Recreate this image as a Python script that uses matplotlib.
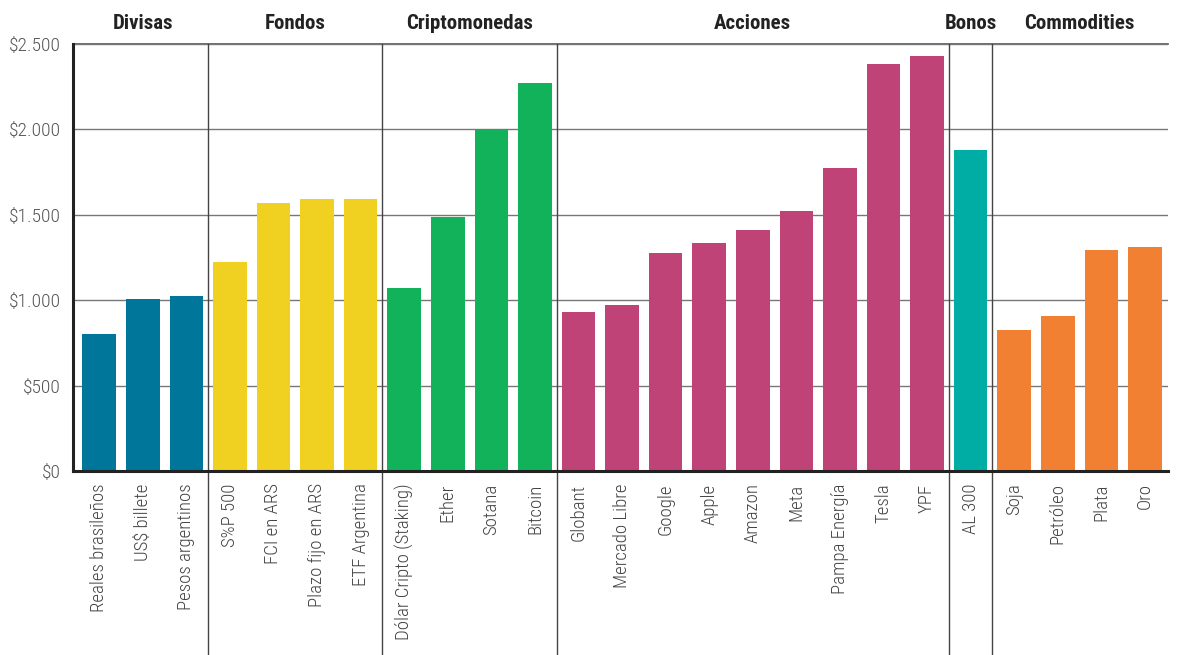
import matplotlib.pyplot as plt
from matplotlib import font_manager

names = {f.name for f in font_manager.fontManager.ttflist}


def pick(candidates):
    for c in candidates:
        if c in names:
            return c
    return 'DejaVu Sans'


body_font = pick(['Roboto Condensed', 'IBM Plex Sans Condensed', 'Open Sans Condensed', 'Liberation Sans Narrow'])
title_font = pick(['Roboto Condensed', 'IBM Plex Sans Condensed', 'Oswald'])
plt.rcParams['font.family'] = [body_font, 'DejaVu Sans']

groups = ['Divisas', 'Fondos', 'Criptomonedas', 'Acciones', 'Bonos', 'Commodities']
group_sizes = [3, 4, 4, 9, 1, 4]
group_colors = ['#00769a', '#f0d020', '#12b25a', '#c04377', '#00ada5', '#f28032']

labels = ['Reales brasileños', 'US$ billete', 'Pesos argentinos',
          'S%P 500', 'FCI en ARS', 'Plazo fijo en ARS', 'ETF Argentina',
          'Dólar Cripto (Staking)', 'Ether', 'Sotana', 'Bitcoin',
          'Globant', 'Mercado Libre', 'Google', 'Apple', 'Amazon', 'Meta',
          'Pampa Energía', 'Tesla', 'YPF',
          'AL 300',
          'Soja', 'Petróleo', 'Plata', 'Oro']
values = [802, 1007, 1025,
          1224, 1569, 1592, 1592,
          1071, 1487, 1996, 2272,
          931, 972, 1276, 1335, 1411, 1522, 1774, 2383, 2430,
          1879,
          826, 907, 1294, 1311]
yticks = [0, 500, 1000, 1500, 2000, 2500]
ytick_labels = ['$0', '$500', '$1.000', '$1.500', '$2.000', '$2.500']

colors = []
for c, n in zip(group_colors, group_sizes):
    colors += [c] * n

fig = plt.figure(figsize=(11.82, 6.55), dpi=100)
ax = fig.add_axes([0.0618, 0.281, 0.926, 0.652])

x = list(range(len(values)))
ax.bar(x, values, width=0.77, color=colors, zorder=3)

ax.set_ylim(0, 2500)
ax.set_xlim(-0.6, len(values) - 0.48)
ax.set_yticks(yticks)
ax.set_yticklabels(ytick_labels, fontsize=14, color='#555555', fontweight='light')
ax.set_xticks(x)
ax.set_xticklabels(labels, rotation=90, fontsize=13.5, color='#444444', fontweight='light')
ax.tick_params(length=0, pad=9)
ax.tick_params(axis='y', pad=9)
ax.grid(axis='y', color='#777777', linewidth=1, zorder=1)
ax.axhline(2500, color='#555555', linewidth=1.2, zorder=1, clip_on=False)

for s in ['top', 'right']:
    ax.spines[s].set_visible(False)
ax.spines['left'].set_linewidth(2.2)
ax.spines['bottom'].set_linewidth(2.2)
ax.spines['left'].set_color('#222222')
ax.spines['bottom'].set_color('#222222')
ax.spines['bottom'].set_zorder(4)

start = 0
for i, (g, n) in enumerate(zip(groups, group_sizes)):
    center = start + (n - 1) / 2
    ax.annotate(g, xy=(center, 1), xycoords=('data', 'axes fraction'),
                xytext=(0, 15), textcoords='offset points',
                ha='center', va='center', fontsize=15, fontweight='bold',
                color='#222222', family=[title_font, 'DejaVu Sans'])
    end = start + n
    if i < len(groups) - 1:
        ax.plot([end - 0.5, end - 0.5], [2500, -1330], color='#444444',
                linewidth=1, clip_on=False, zorder=2)
    start = end

plt.savefig('out.png', dpi=100)
